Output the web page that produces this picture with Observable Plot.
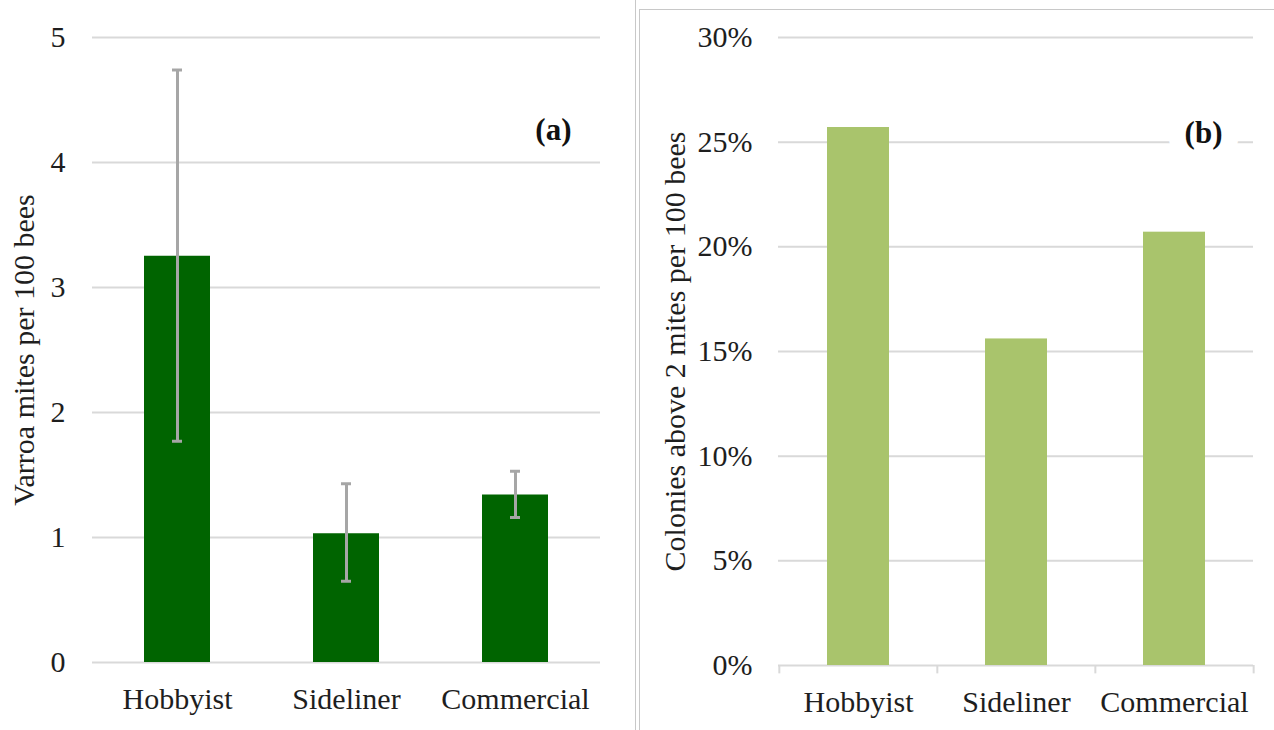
<!DOCTYPE html>
<html>
<head>
<meta charset="utf-8">
<script src="https://cdn.jsdelivr.net/npm/d3@7"></script>
<script src="https://cdn.jsdelivr.net/npm/@observablehq/plot@0.6"></script>
<style>
  html, body { margin: 0; padding: 0; background: #fff; }
  #wrap { position: relative; width: 1274px; height: 730px; overflow: hidden; background: #fff; }
  #panelA { position: absolute; left: 0; top: 0; width: 635px; height: 730px; border-right: 1px solid #c8c8c8; }
  #panelB { position: absolute; left: 639px; top: 9px; width: 635px; height: 721px; border-left: 1px solid #c8c8c8; border-top: 1px solid #c8c8c8; }
  svg { display: block; }
</style>
</head>
<body>
<div id="wrap">
  <div id="panelA"></div>
  <div id="panelB"></div>
</div>
<script>
// ---- data ----
const categories = ["Hobbyist", "Sideliner", "Commercial"];
const varroaMean = [3.25, 1.03, 1.34];
const varroaLow = [1.77, 0.65, 1.16];
const varroaHigh = [4.74, 1.43, 1.53];
const coloniesAbove = [0.257, 0.156, 0.207];
const ticksA = [0, 1, 2, 3, 4, 5];
const ticksB = [0, 0.05, 0.10, 0.15, 0.20, 0.25, 0.30];
const labelA = "Varroa mites per 100 bees";
const labelB = "Colonies above 2 mites per 100 bees";
const tagA = "(a)";
const tagB = "(b)";

const tableA = categories.map((c, i) => ({cat: c, mean: varroaMean[i], lo: varroaLow[i], hi: varroaHigh[i]}));
const tableB = categories.map((c, i) => ({cat: c, share: coloniesAbove[i]}));

const font = "'Liberation Serif', serif";
const textColor = "#1e1e1e";
const gridColor = "#d9d9d9";

// ---- panel (a) ----
const A = {width: 635, height: 730, ml: 92, mr: 35, mt: 37, mb: 68};
const plotA = Plot.plot({
  width: A.width, height: A.height,
  marginLeft: A.ml, marginRight: A.mr, marginTop: A.mt, marginBottom: A.mb,
  style: {fontFamily: font, fontSize: "30px", color: textColor, background: "white"},
  x: {domain: categories, paddingInner: 0.61, paddingOuter: 0.305},
  y: {domain: [0, 5]},
  marks: [
    Plot.gridY(ticksA, {stroke: gridColor, strokeWidth: 2, strokeOpacity: 1}),
    Plot.barY(tableA, {x: "cat", y: "mean", fill: "#006400"}),
    Plot.ruleX(tableA, {x: "cat", y1: "lo", y2: "hi", stroke: "#a6a6a6", strokeWidth: 3}),
    Plot.tickY(tableA, {x: "cat", y: "hi", stroke: "#a6a6a6", strokeWidth: 3, insetLeft: 28, insetRight: 28}),
    Plot.tickY(tableA, {x: "cat", y: "lo", stroke: "#a6a6a6", strokeWidth: 3, insetLeft: 28, insetRight: 28}),
    Plot.axisY(ticksA, {tickSize: 0, tickPadding: 27, tickFormat: d => String(d), label: labelA, labelAnchor: "center", labelOffset: 80, labelArrow: "none", fill: textColor}),
    Plot.axisX({tickSize: 0, tickPadding: 25, label: null, fill: textColor}),
    Plot.text([tagA], {frameAnchor: "top-right", textAnchor: "end", lineAnchor: "top", dx: -29, dy: 80, fontWeight: "bold", fontSize: 31, fill: "#111"})
  ]
});
document.getElementById("panelA").append(plotA);

// ---- panel (b) ----
const B = {width: 634, height: 720, ml: 138, mr: 21, mt: 27, mb: 65};
const stepB = (B.width - B.ml - B.mr) / categories.length;
const tickLen = 0.004;
const plotB = Plot.plot({
  width: B.width, height: B.height,
  marginLeft: B.ml, marginRight: B.mr, marginTop: B.mt, marginBottom: B.mb,
  style: {fontFamily: font, fontSize: "30px", color: textColor, background: "white"},
  x: {domain: categories, paddingInner: 0.608, paddingOuter: 0.304},
  y: {domain: [0, 0.30]},
  marks: [
    Plot.gridY(ticksB, {stroke: gridColor, strokeWidth: 2, strokeOpacity: 1}),
    Plot.ruleX(categories, {x: d => d, dx: -stepB / 2, y1: 0, y2: -tickLen, stroke: gridColor, strokeWidth: 2}),
    Plot.ruleX(categories.slice(-1), {x: d => d, dx: stepB / 2, y1: 0, y2: -tickLen, stroke: gridColor, strokeWidth: 2}),
    Plot.barY(tableB, {x: "cat", y: "share", fill: "#a9c46c"}),
    Plot.axisY(ticksB, {tickSize: 0, tickPadding: 26, tickFormat: d => Math.round(d * 100) + "%", label: labelB, labelAnchor: "center", labelOffset: 115, labelArrow: "none", fill: textColor}),
    Plot.axisX({tickSize: 0, tickPadding: 25, label: null, fill: textColor}),
    Plot.text([tagB], {frameAnchor: "top-right", textAnchor: "end", lineAnchor: "top", dx: -31, dy: 83, fontWeight: "bold", fontSize: 31, fill: "#111", stroke: "white", strokeWidth: 34})
  ]
});
document.getElementById("panelB").append(plotB);
</script>
</body>
</html>
